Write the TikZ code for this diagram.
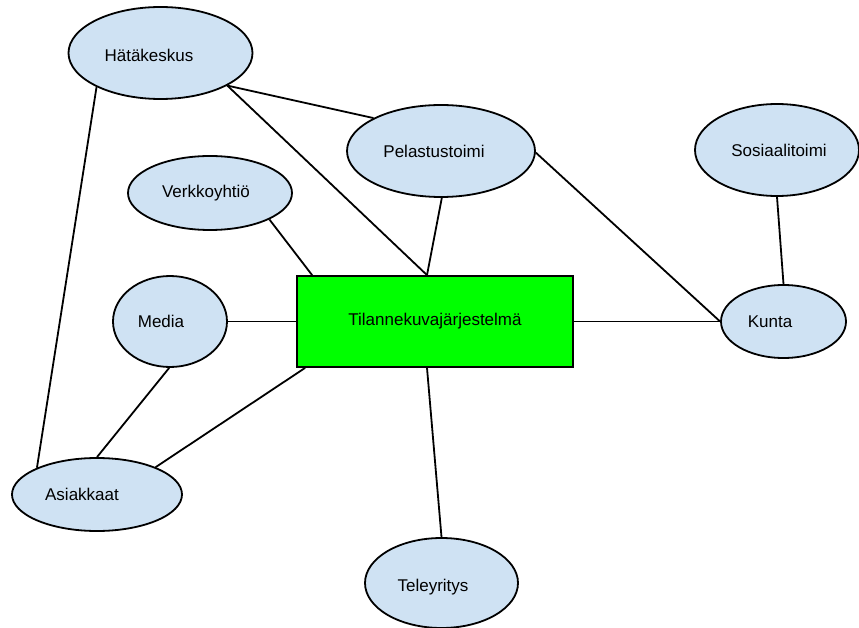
\documentclass[tikz,border=0pt]{standalone}
\usepackage{fontspec}
\setmainfont{Liberation Sans}
\usetikzlibrary{shapes.geometric}
\definecolor{bubble}{HTML}{CFE2F3}
\definecolor{hub}{HTML}{00FF00}
\begin{document}
\begin{tikzpicture}[x=1pt,y=-1pt,
  font=\fontsize{17}{20}\selectfont,
  actor/.style={ellipse, draw=black, line width=1.8pt, fill=bubble, inner sep=0pt},
  hubbox/.style={rectangle, draw=black, line width=1.8pt, fill=hub, inner sep=0pt,
                 minimum width=276pt, minimum height=91pt},
  link/.style={line width=1.8pt, draw=black}]
\useasboundingbox (0,0) rectangle (859,628);

% central system
\node[hubbox] (sys) at (435,321.5) {Tilannekuvajärjestelmä};

% parties around it
\node[actor, minimum width=184pt, minimum height=92pt,
      label={[xshift=-11.5pt,yshift=-2pt]center:Hätäkeskus}] (hk) at (160.5,53) {};
\node[actor, minimum width=188pt, minimum height=92pt,
      label={[xshift=-7pt]center:Pelastustoimi}] (pt) at (441,151) {};
\node[actor, minimum width=164pt, minimum height=74pt,
      label={[xshift=-4pt]center:Verkkoyhtiö}] (vk) at (210,193) {};
\node[actor, minimum width=164pt, minimum height=92pt,
      label={[xshift=2pt]center:Sosiaalitoimi}] (so) at (777,150) {};
\node[actor, minimum width=114pt, minimum height=91pt,
      label={[xshift=-9pt]center:Media}] (md) at (170,321.5) {};
\node[actor, minimum width=125pt, minimum height=73pt,
      label={[xshift=-13.5pt]center:Kunta}] (ku) at (783.5,321.5) {};
\node[actor, minimum width=170pt, minimum height=73pt,
      label={[xshift=-15pt]center:Asiakkaat}] (as) at (97,494.5) {};
\node[actor, minimum width=153pt, minimum height=90pt,
      label={[xshift=-8.5pt,yshift=-4pt]center:Teleyritys}] (te) at (441.5,583) {};

% connections
\draw[link] (hk.208) -- (as.156);
\draw[link] (hk.-26) -- (pt.154);
\draw[link] (hk.-26) -- ([xshift=-8pt]sys.north);
\draw[link] (pt.-89) -- ([xshift=-8pt]sys.north);
\draw[link] (pt.-1) -- (ku.west);
\draw[link] (vk.-24) -- ([xshift=16pt]sys.north west);
\draw[link] (md.east) -- (sys.west);
\draw[link] (md.-91) -- (as.north);
\draw[link] ([xshift=9pt]sys.south west) -- (as.25);
\draw[link] ([xshift=-8pt]sys.south) -- (te.north);
\draw[link] (sys.east) -- (ku.west);
\draw[link] (so.south) -- (ku.north);
\end{tikzpicture}
\end{document}
